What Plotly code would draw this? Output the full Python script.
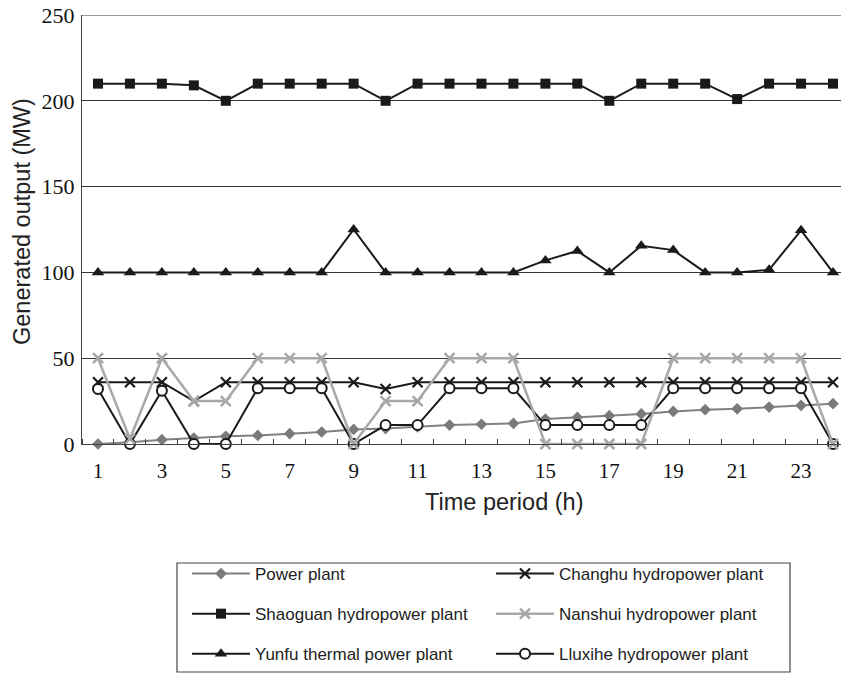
import plotly.graph_objects as go

hours = list(range(1, 25))
tick_hours = [1, 3, 5, 7, 9, 11, 13, 15, 17, 19, 21, 23]
y_ticks = [0, 50, 100, 150, 200, 250]

power_plant = [0, 1, 2.5, 3.5, 4.5, 5, 6, 7, 8.5, 9, 10, 11, 11.5, 12, 14.5, 15.5, 16.5, 17.5, 19, 20, 20.5, 21.5, 22.5, 23.5]
shaoguan = [210, 210, 210, 209, 200, 210, 210, 210, 210, 200, 210, 210, 210, 210, 210, 210, 200, 210, 210, 210, 201, 210, 210, 210]
yunfu = [100, 100, 100, 100, 100, 100, 100, 100, 125, 100, 100, 100, 100, 100, 107, 112.5, 100, 115.5, 113, 100, 100, 101.5, 124.5, 100]
changhu = [36, 36, 36, 25, 36, 36, 36, 36, 36, 32, 36, 36, 36, 36, 36, 36, 36, 36, 36, 36, 36, 36, 36, 36]
nanshui = [50, 3, 50, 25, 25, 50, 50, 50, 0, 25, 25, 50, 50, 50, 0, 0, 0, 0, 50, 50, 50, 50, 50, 0]
lluxihe = [32, 0, 31, 0, 0, 32.5, 32.5, 32.5, 0, 11, 11, 32.5, 32.5, 32.5, 11, 11, 11, 11, 32.5, 32.5, 32.5, 32.5, 32.5, 0]

BLACK = "#1a1a1a"
GRAY = "#808080"
LIGHT = "#a8a8a8"

fig = go.Figure()

def add(name, y, color, symbol, size, mcolor, lw=2, mline=None, legend="legend", rank=1):
    marker = dict(symbol=symbol, size=size, color=mcolor)
    if mline is not None:
        marker["line"] = mline
    fig.add_trace(go.Scatter(
        x=hours, y=y, name=name, mode="lines+markers",
        line=dict(color=color, width=lw), marker=marker,
        cliponaxis=False, legend=legend, legendgroup=name, legendrank=rank,
    ))

add("Power plant", power_plant, GRAY, "diamond", 9, "#7a7a7a", lw=2, legend="legend", rank=1)
add("Shaoguan hydropower plant", shaoguan, BLACK, "square", 10, BLACK, legend="legend", rank=2)
add("Yunfu thermal power plant", yunfu, BLACK, "triangle-up", 11, BLACK, legend="legend", rank=3)
add("Changhu hydropower plant", changhu, BLACK, "x-thin", 10, BLACK,
    mline=dict(color=BLACK, width=2.2), legend="legend2", rank=1)
add("Lluxihe hydropower plant", lluxihe, BLACK, "circle", 10, "white",
    mline=dict(color=BLACK, width=2), legend="legend2", rank=3)
add("Nanshui hydropower plant", nanshui, LIGHT, "x-thin", 10, LIGHT, lw=2.5,
    mline=dict(color=LIGHT, width=2.6), legend="legend2", rank=2)

legend_common = dict(
    orientation="v", xanchor="left", yanchor="top",
    font=dict(family="Liberation Sans", size=17, color="#222"),
    bgcolor="rgba(0,0,0,0)", borderwidth=0,
    traceorder="grouped", tracegroupgap=15, itemwidth=58,
)

def px_x(px):
    return (px - 82) / 759

def px_y(py):
    return (444 - py) / 429

fig.update_layout(
    width=841, height=673,
    margin=dict(l=82, r=0, t=15, b=229, autoexpand=False),
    paper_bgcolor="white", plot_bgcolor="white",
    showlegend=True,
    legend=dict(x=px_x(187), y=px_y(556), **legend_common),
    legend2=dict(x=px_x(491), y=px_y(556), **legend_common),
    xaxis=dict(
        range=[0.5, 24.25], tickmode="array", tickvals=tick_hours,
        ticktext=[str(h) for h in tick_hours], ticks="",
        showgrid=False, zeroline=False, showline=True, linecolor="#444", linewidth=1.2,
        tickfont=dict(family="Liberation Serif", size=21, color="#111"),
        ticklabelstandoff=8,
        minor=dict(tick0=0.5, dtick=1, ticks="inside", ticklen=5, tickcolor="#444", tickwidth=1, showgrid=False),
    ),
    yaxis=dict(
        range=[0, 250], tickmode="array", tickvals=y_ticks, ticks="",
        showgrid=True, gridcolor="#333", gridwidth=1,
        zeroline=False, showline=True, linecolor="#444", linewidth=1.2,
        tickfont=dict(family="Liberation Serif", size=22, color="#111"),
        ticklabelstandoff=2,
    ),
    shapes=[
        dict(type="rect", xref="paper", yref="paper",
             x0=px_x(177), x1=px_x(790), y0=px_y(563), y1=px_y(672),
             line=dict(color="#444", width=1.2), fillcolor="rgba(0,0,0,0)"),
        dict(type="line", xref="paper", yref="y", x0=0, x1=1, y0=250, y1=250,
             line=dict(color="#333", width=1)),
    ],
    annotations=[
        dict(text="Time period (h)", xref="paper", yref="paper",
             x=px_x(504), y=px_y(502), xanchor="center", yanchor="middle",
             showarrow=False, font=dict(family="Liberation Sans", size=23.5, color="#222")),
        dict(text="Generated output (MW)", xref="paper", yref="paper",
             x=px_x(22), y=px_y(222), xanchor="center", yanchor="middle",
             textangle=-90, showarrow=False,
             font=dict(family="Liberation Sans", size=23.5, color="#222")),
    ],
)

fig.write_html("out.html")
